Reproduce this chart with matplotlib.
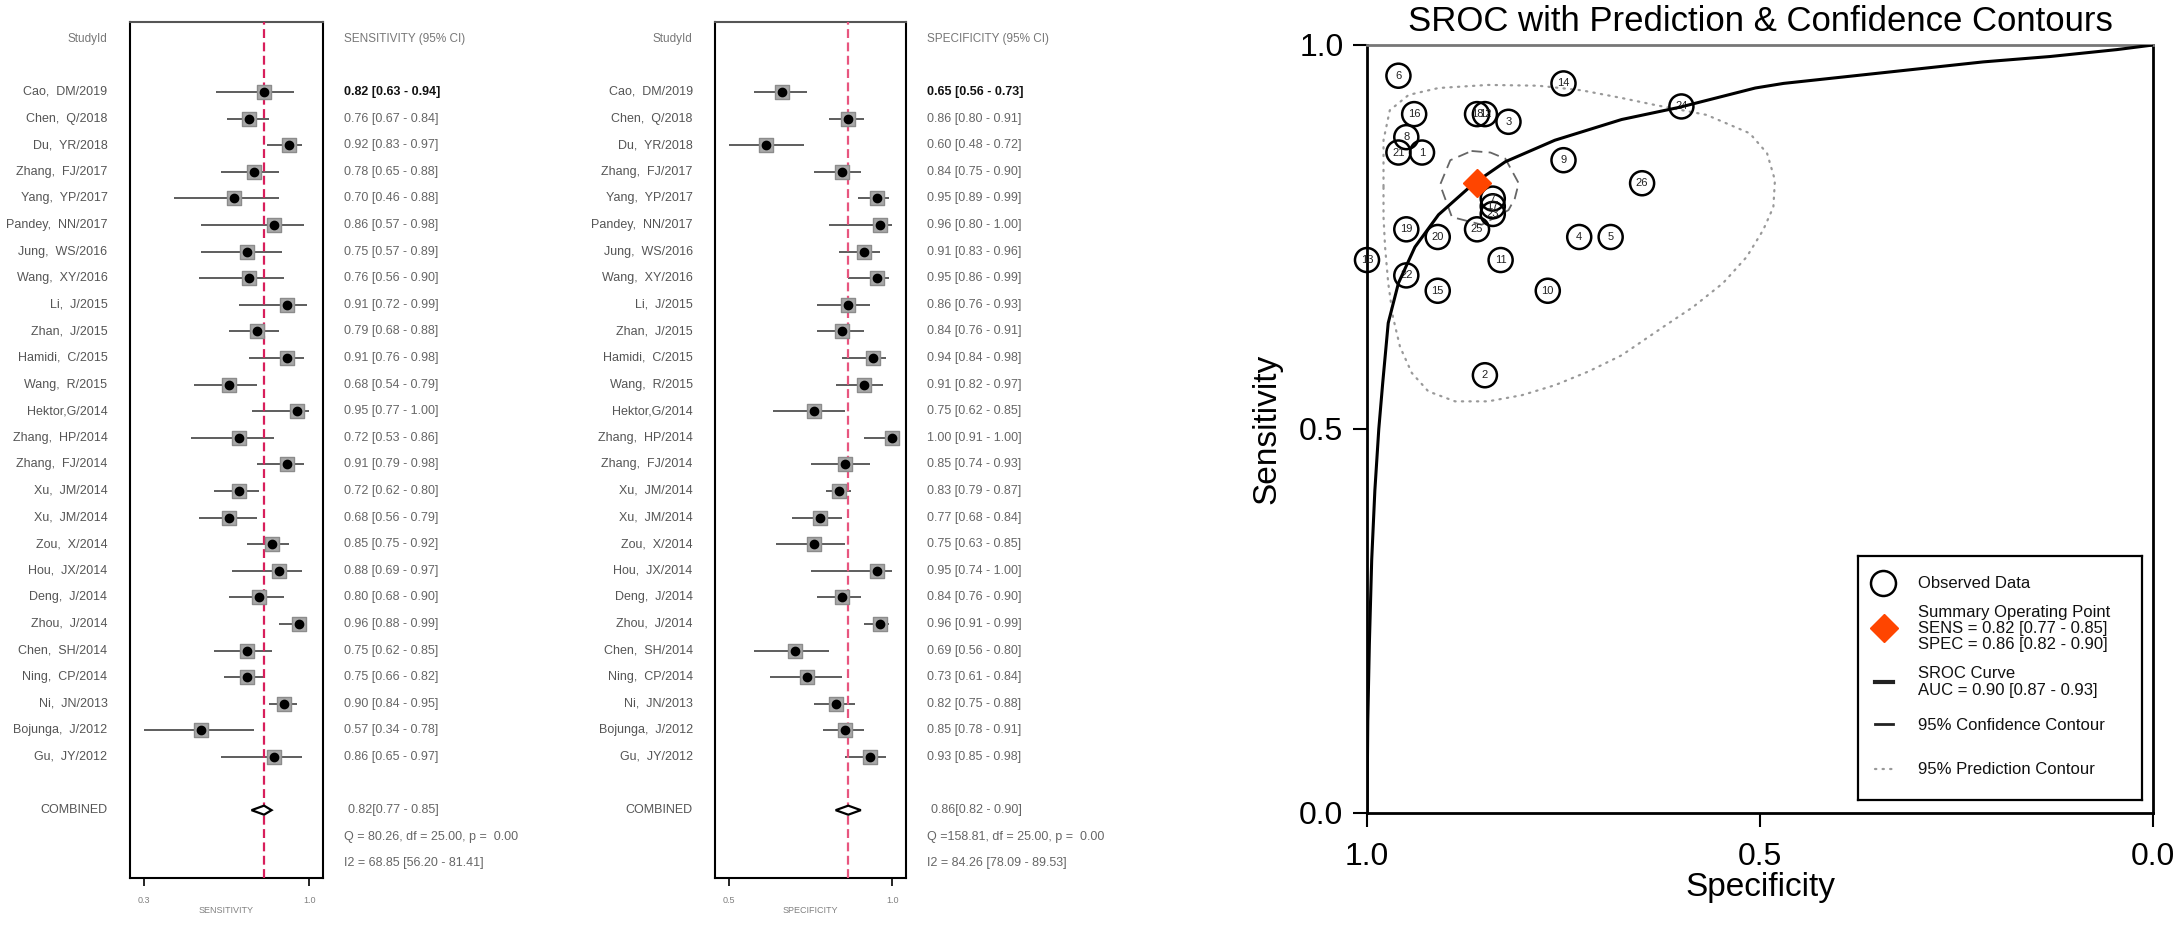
import matplotlib
matplotlib.use('Agg')
import matplotlib.pyplot as plt
from matplotlib import transforms
from matplotlib.patches import Polygon

plt.rcParams['font.family'] = ['Liberation Sans', 'DejaVu Sans']

# ---- data ----
studies = ['Cao,  DM/2019', 'Chen,  Q/2018', 'Du,  YR/2018', 'Zhang,  FJ/2017',
           'Yang,  YP/2017', 'Pandey,  NN/2017', 'Jung,  WS/2016', 'Wang,  XY/2016',
           'Li,  J/2015', 'Zhan,  J/2015', 'Hamidi,  C/2015', 'Wang,  R/2015',
           'Hektor,G/2014', 'Zhang,  HP/2014', 'Zhang,  FJ/2014', 'Xu,  JM/2014',
           'Xu,  JM/2014', 'Zou,  X/2014', 'Hou,  JX/2014', 'Deng,  J/2014',
           'Zhou,  J/2014', 'Chen,  SH/2014', 'Ning,  CP/2014', 'Ni,  JN/2013',
           'Bojunga,  J/2012', 'Gu,  JY/2012']

sens = [0.82, 0.76, 0.92, 0.78, 0.70, 0.86, 0.75, 0.76, 0.91, 0.79, 0.91, 0.68, 0.95,
        0.72, 0.91, 0.72, 0.68, 0.85, 0.88, 0.80, 0.96, 0.75, 0.75, 0.90, 0.57, 0.86]
sens_lo = [0.63, 0.67, 0.83, 0.65, 0.46, 0.57, 0.57, 0.56, 0.72, 0.68, 0.76, 0.54, 0.77,
           0.53, 0.79, 0.62, 0.56, 0.75, 0.69, 0.68, 0.88, 0.62, 0.66, 0.84, 0.34, 0.65]
sens_hi = [0.94, 0.84, 0.97, 0.88, 0.88, 0.98, 0.89, 0.90, 0.99, 0.88, 0.98, 0.79, 1.00,
           0.86, 0.98, 0.80, 0.79, 0.92, 0.97, 0.90, 0.99, 0.85, 0.82, 0.95, 0.78, 0.97]

spec = [0.65, 0.86, 0.60, 0.84, 0.95, 0.96, 0.91, 0.95, 0.86, 0.84, 0.94, 0.91, 0.75,
        1.00, 0.85, 0.83, 0.77, 0.75, 0.95, 0.84, 0.96, 0.69, 0.73, 0.82, 0.85, 0.93]
spec_lo = [0.56, 0.80, 0.48, 0.75, 0.89, 0.80, 0.83, 0.86, 0.76, 0.76, 0.84, 0.82, 0.62,
           0.91, 0.74, 0.79, 0.68, 0.63, 0.74, 0.76, 0.91, 0.56, 0.61, 0.75, 0.78, 0.85]
spec_hi = [0.73, 0.91, 0.72, 0.90, 0.99, 1.00, 0.96, 0.99, 0.93, 0.91, 0.98, 0.97, 0.85,
           1.00, 0.93, 0.87, 0.84, 0.85, 1.00, 0.90, 0.99, 0.80, 0.84, 0.88, 0.91, 0.98]

sens_pooled = [0.82, 0.77, 0.85]
spec_pooled = [0.86, 0.82, 0.90]
sens_stats = ['Q = 80.26, df = 25.00, p =  0.00', 'I2 = 68.85 [56.20 - 81.41]']
spec_stats = ['Q =158.81, df = 25.00, p =  0.00', 'I2 = 84.26 [78.09 - 89.53]']
auc = [0.90, 0.87, 0.93]

# SROC curve and contours (specificity, sensitivity)
curve_spec = [1.000, 0.999, 0.997, 0.994, 0.990, 0.985, 0.980, 0.973, 0.960, 0.939, 0.909,
              0.865, 0.824, 0.761, 0.676, 0.602, 0.506, 0.470, 0.216, 0.131, 0.046, 0.000]
curve_sens = [0.000, 0.120, 0.220, 0.330, 0.420, 0.500, 0.560, 0.638, 0.690, 0.737, 0.779,
              0.819, 0.848, 0.876, 0.903, 0.919, 0.944, 0.950, 0.978, 0.985, 0.994, 1.000]

conf_spec = [0.867, 0.843, 0.824, 0.807, 0.812, 0.820, 0.854, 0.892, 0.907, 0.894, 0.867]
conf_sens = [0.862, 0.860, 0.852, 0.820, 0.800, 0.785, 0.766, 0.776, 0.818, 0.850, 0.862]

pred_spec = [0.979, 0.979, 0.971, 0.947, 0.909, 0.846, 0.782, 0.727, 0.676, 0.634, 0.568,
             0.513, 0.491, 0.481, 0.483, 0.496, 0.517, 0.547, 0.585, 0.623, 0.676, 0.718,
             0.761, 0.803, 0.846, 0.888, 0.922, 0.943, 0.958, 0.967, 0.973, 0.977, 0.979,
             0.979]
pred_sens = [0.816, 0.876, 0.915, 0.935, 0.944, 0.948, 0.947, 0.941, 0.931, 0.922, 0.909,
             0.885, 0.859, 0.824, 0.789, 0.759, 0.724, 0.690, 0.659, 0.633, 0.596, 0.575,
             0.557, 0.544, 0.536, 0.536, 0.549, 0.573, 0.607, 0.646, 0.690, 0.737, 0.776,
             0.816]

# study numbers in the SROC plot run in reverse of the forest order
point_ids = [len(studies) - i for i in range(len(studies))]

W, H = 2181, 925
fig = plt.figure(figsize=(W / 100, H / 100), dpi=100)


def px_axes(x0, y0, x1, y1):
    return fig.add_axes([x0 / W, 1 - y1 / H, (x1 - x0) / W, (y1 - y0) / H])


def draw_forest(ax, est, lo, hi, pooled, stats, head, xname, red):
    n = len(est)
    rows = list(range(1, n + 1))
    xmin, xmax = min(lo), max(hi)
    pad = 0.084 * (xmax - xmin)
    ax.set_xlim(xmin - pad, xmax + pad)
    ax.set_ylim(30.55, -1.63)

    ax.hlines(rows, lo, hi, color='#505050', lw=1.3, zorder=2)
    ax.axvline(pooled[0], color=red, ls=(0, (4, 2)), lw=1.6, zorder=3)
    ax.scatter(est, rows, marker='s', s=115, color='#a8a8a8', edgecolor='#8c8c8c',
               lw=1, zorder=4)
    ax.scatter(est, rows, marker='o', s=36, color='black', zorder=5)
    yc = 28
    dh = 0.17
    ax.add_patch(Polygon([[pooled[1], yc], [pooled[0], yc - dh], [pooled[2], yc],
                          [pooled[0], yc + dh]], closed=True, fc='white', ec='black',
                         lw=1.6, zorder=6))

    for side in ['left', 'right', 'top', 'bottom']:
        ax.spines[side].set_linewidth(1.5)
    ax.spines['top'].set_color('#555555')
    ax.set_yticks([])
    ax.set_xticks([xmin, xmax])
    ax.set_xticklabels([f'{xmin:.1f}', f'{xmax:.1f}'])
    ax.tick_params(axis='x', length=6, width=1.2, labelsize=6.5, labelcolor='#808080', pad=7)
    ax.set_xlabel(xname, fontsize=6.5, color='#808080', labelpad=1)

    tr = transforms.blended_transform_factory(ax.transAxes, ax.transData)
    lx = -0.117
    vx = 1.109
    fs = 9
    ax.text(lx, -1, 'StudyId', transform=tr, ha='right', va='center', fontsize=8.5,
            color='#777777')
    ax.text(vx, -1, head, transform=tr, ha='left', va='center', fontsize=8.5,
            color='#777777')
    for i in range(n):
        ax.text(lx, rows[i], studies[i], transform=tr, ha='right', va='center',
                fontsize=fs, color='#555555')
        first = i == 0
        ax.text(vx, rows[i], f'{est[i]:.2f} [{lo[i]:.2f} - {hi[i]:.2f}]', transform=tr,
                ha='left', va='center', fontsize=fs,
                color='#111111' if first else '#666666',
                fontweight='bold' if first else 'normal')
    ax.text(lx, 28, 'COMBINED', transform=tr, ha='right', va='center', fontsize=fs,
            color='#555555')
    ax.text(vx + 0.02, 28, f'{pooled[0]:.2f}[{pooled[1]:.2f} - {pooled[2]:.2f}]',
            transform=tr, ha='left', va='center', fontsize=fs, color='#666666')
    ax.text(vx, 29, stats[0], transform=tr, ha='left', va='center', fontsize=fs,
            color='#666666')
    ax.text(vx, 30, stats[1], transform=tr, ha='left', va='center', fontsize=fs,
            color='#666666')


ax1 = px_axes(130, 22, 323, 878)
draw_forest(ax1, sens, sens_lo, sens_hi, sens_pooled, sens_stats,
            'SENSITIVITY (95% CI)', 'SENSITIVITY', '#d81e5b')
ax2 = px_axes(715, 22, 906, 878)
draw_forest(ax2, spec, spec_lo, spec_hi, spec_pooled, spec_stats,
            'SPECIFICITY (95% CI)', 'SPECIFICITY', '#e8557f')

# ---- SROC panel ----
ax3 = px_axes(1367, 45, 2153, 813)
ax3.set_xlim(1, 0)
ax3.set_ylim(0, 1)
ax3.plot(pred_spec, pred_sens, color='#999999', lw=1.6, ls=(0, (0.6, 2.8)),
         dash_capstyle='round', zorder=2)
ax3.plot(conf_spec, conf_sens, color='#666666', lw=1.3, ls=(0, (6, 3.5)), zorder=2)
ax3.plot(curve_spec, curve_sens, color='black', lw=2.2, zorder=4)
ax3.scatter(spec, sens, s=300, facecolors='none', edgecolors='black', linewidths=1.8,
            zorder=3, clip_on=False)
for i in range(len(spec)):
    ax3.text(spec[i], sens[i], str(point_ids[i]), ha='center', va='center', fontsize=8,
             color='#222222', zorder=3)
ax3.plot([spec_pooled[0]], [sens_pooled[0]], marker='D', ms=14, color='#ff4500',
         mec='#ff4500', zorder=5)

for side in ['left', 'right', 'top', 'bottom']:
    ax3.spines[side].set_linewidth(2)
ax3.spines['top'].set_color('#777777')
ax3.set_xticks([1.0, 0.5, 0.0])
ax3.set_xticklabels(['1.0', '0.5', '0.0'])
ax3.set_yticks([0.0, 0.5, 1.0])
ax3.set_yticklabels(['0.0', '0.5', '1.0'])
ax3.tick_params(axis='x', length=10, width=1.5, labelsize=23, pad=11)
ax3.tick_params(axis='y', length=10, width=1.5, labelsize=23, pad=7)
ax3.set_title('SROC with Prediction & Confidence Contours', fontsize=25, pad=10)
ax3.set_xlabel('Specificity', fontsize=24)
ax3.set_ylabel('Sensitivity', fontsize=24)
ax3.xaxis.set_label_coords(0.5, -0.077)
ax3.yaxis.set_label_coords(-0.108, 0.5)

# legend box drawn in pixel units
lg = px_axes(1858, 556, 2142, 800)
lg.set_xlim(0, 284)
lg.set_ylim(244, 0)
lg.set_xticks([])
lg.set_yticks([])
for side in ['left', 'right', 'top', 'bottom']:
    lg.spines[side].set_linewidth(1.6)
lg.plot([25], [27], marker='o', ms=18, mfc='none', mec='black', mew=1.8)
lg.plot([26], [72], marker='D', ms=14, color='#ff4500')
lg.plot([17, 35], [126, 126], color='#222222', lw=3)
lg.plot([17, 35], [168, 168], color='#222222', lw=2)
lg.plot([17, 35], [213, 213], color='#999999', lw=1.6, ls=(0, (0.6, 2.8)),
        dash_capstyle='round')
txt = dict(ha='left', va='center', fontsize=12, color='#111111')
lg.text(60, 27, 'Observed Data', **txt)
lg.text(60, 56, 'Summary Operating Point', **txt)
lg.text(60, 72, f'SENS = {sens_pooled[0]:.2f} [{sens_pooled[1]:.2f} - {sens_pooled[2]:.2f}]', **txt)
lg.text(60, 88, f'SPEC = {spec_pooled[0]:.2f} [{spec_pooled[1]:.2f} - {spec_pooled[2]:.2f}]', **txt)
lg.text(60, 117, 'SROC Curve', **txt)
lg.text(60, 135, f'AUC = {auc[0]:.2f} [{auc[1]:.2f} - {auc[2]:.2f}]', **txt)
lg.text(60, 169, '95% Confidence Contour', **txt)
lg.text(60, 214, '95% Prediction Contour', **txt)

fig.savefig('out.png', dpi=100)
